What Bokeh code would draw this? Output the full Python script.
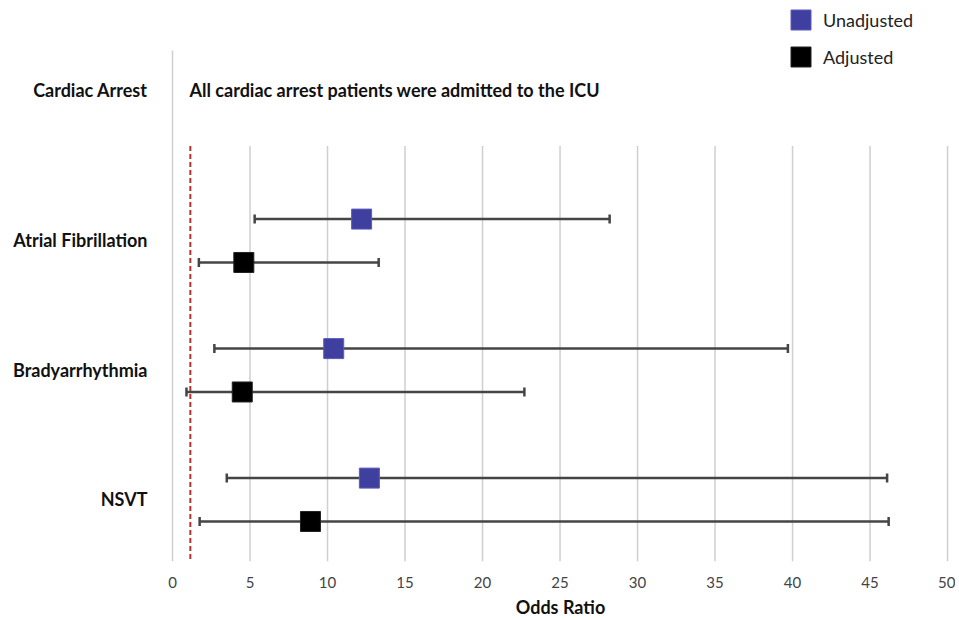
import math
from bokeh.plotting import figure
from bokeh.models import (ColumnDataSource, Whisker, TeeHead, FixedTicker, Legend,
                          LegendItem, Range1d)
from bokeh.core.properties import value
from bokeh.embed import file_html
from bokeh.resources import INLINE

# ---- data ----
rows = ["Cardiac Arrest", "Atrial Fibrillation", "Bradyarrhythmia", "NSVT"]
row_pos = [4.16, 3, 2, 1]

conditions = ["Atrial Fibrillation", "Bradyarrhythmia", "NSVT"]
cond_pos = [3, 2, 1]

unadj_or = [12.2, 10.4, 12.7]
unadj_lo = [5.3, 2.7, 3.5]
unadj_hi = [28.2, 39.7, 46.1]

adj_or = [4.6, 4.5, 8.9]
adj_lo = [1.7, 0.9, 1.75]
adj_hi = [13.3, 22.7, 46.2]

x_ticks = [0, 5, 10, 15, 20, 25, 30, 35, 40, 45, 50]
ref_line_x = 1.15
grid_top = 3.73
axis_top = 4.467
note_text = "All cardiac arrest patients were admitted to the ICU"
note_x = 1.1

unadj_shift = 0.165
adj_shift = -0.17

FONT = "Lato"
Y0, Y1 = 0.521, 4.853

p = figure(width=955, height=620, output_backend="svg", toolbar_location=None,
           title=None,
           x_range=Range1d(-0.13, 50.19), y_range=Range1d(Y0, Y1),
           min_border_left=170, min_border_right=5, min_border_top=0,
           min_border_bottom=0)
p.outline_line_color = None
p.background_fill_color = "white"
p.border_fill_color = "white"

p.grid.grid_line_color = None
p.xaxis.ticker = FixedTicker(ticks=x_ticks)
p.yaxis.ticker = FixedTicker(ticks=row_pos)
p.yaxis.major_label_overrides = {pos: lab for pos, lab in zip(row_pos, rows)}

for ax in (p.xaxis, p.yaxis):
    ax.major_tick_line_color = None
    ax.minor_tick_line_color = None
    ax.axis_line_color = None

p.xaxis.major_label_text_font = FONT
p.xaxis.major_label_text_font_size = "15px"
p.xaxis.major_label_text_color = "#444444"
p.xaxis.major_label_standoff = 9
p.xaxis.axis_label = "Odds Ratio"
p.xaxis.axis_label_text_font = FONT
p.xaxis.axis_label_text_font_style = "bold"
p.xaxis.axis_label_text_font_size = "18px"
p.xaxis.axis_label_text_color = "#111111"
p.xaxis.axis_label_standoff = 5

p.yaxis.major_label_text_font = FONT
p.yaxis.major_label_text_font_style = "bold"
p.yaxis.major_label_text_font_size = "18px"
p.yaxis.major_label_text_color = "#111111"
p.yaxis.major_label_standoff = 17

# left axis line at x = 0
p.segment(x0=[x_ticks[0]], y0=[axis_top], x1=[x_ticks[0]], y1=[Y0],
          line_color="#CFCFCF", line_width=1.5, level="image")

# vertical grid lines (below the Cardiac Arrest row)
p.segment(x0=x_ticks[1:], y0=[grid_top] * (len(x_ticks) - 1),
          x1=x_ticks[1:], y1=[Y0] * (len(x_ticks) - 1),
          line_color="#CFCFCF", line_width=1.5, level="image")

# reference line
p.segment(x0=[ref_line_x], y0=[grid_top], x1=[ref_line_x], y1=[Y0],
          line_color="#B0342A", line_width=2, line_dash="5 3")

# error bars
src_u = ColumnDataSource(dict(y=[c + unadj_shift for c in cond_pos], x=unadj_or,
                              lo=unadj_lo, hi=unadj_hi))
src_a = ColumnDataSource(dict(y=[c + adj_shift for c in cond_pos], x=adj_or,
                              lo=adj_lo, hi=adj_hi))
for src in (src_u, src_a):
    w = Whisker(source=src, base="y", lower="lo", upper="hi", dimension="width",
                line_color="#454545", line_width=2.5, level="underlay",
                lower_head=TeeHead(size=9, line_color="#454545", line_width=2.5),
                upper_head=TeeHead(size=9, line_color="#454545", line_width=2.5))
    p.add_layout(w)

r_u = p.rect(x="x", y="y", width=20, height=20, width_units="screen",
             height_units="screen", source=src_u, fill_color="#3F3FA0",
             line_color="#5B5BBE", line_width=1)
r_a = p.rect(x="x", y="y", width=20, height=20, width_units="screen",
             height_units="screen", source=src_a, fill_color="#000000",
             line_color="#222222", line_width=1)

p.text(x=[note_x], y=[row_pos[0]], text=[note_text], text_font=value(FONT),
       text_font_style="bold", text_font_size="18px", text_color="#111111",
       text_baseline="middle", text_align="left")

legend = Legend(items=[LegendItem(label="Unadjusted", renderers=[r_u]),
                       LegendItem(label="Adjusted", renderers=[r_a])],
                location=(618, 492), padding=0, spacing=12,
                glyph_width=25, glyph_height=25, label_standoff=10,
                label_text_font=FONT, label_text_font_size="18px",
                label_text_color="#222222",
                border_line_color=None, background_fill_alpha=0)
p.add_layout(legend)

open("out.html", "w").write(file_html(p, INLINE))
